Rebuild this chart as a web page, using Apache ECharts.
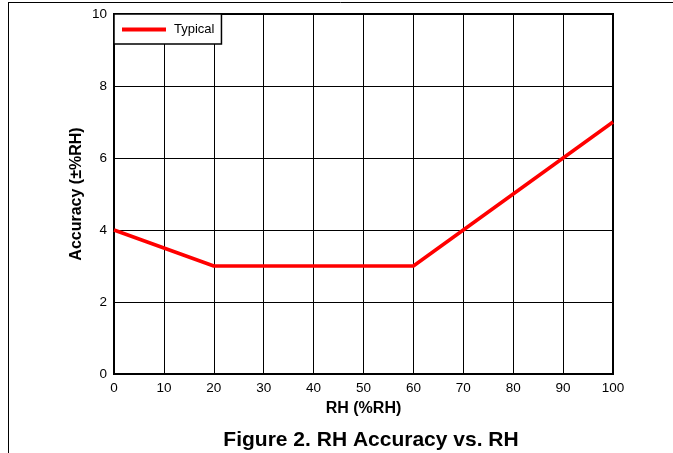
<!DOCTYPE html>
<html><head><meta charset="utf-8">
<script src="https://cdn.jsdelivr.net/npm/echarts@6/dist/echarts.min.js"></script>
<style>html,body{margin:0;padding:0;background:#fff}#c{width:673px;height:453px}</style>
</head><body><div id="c"></div>
<script>
const rhValues = [0, 20, 60, 100];
const accuracyValues = [4, 3, 3, 7];
const seriesName = 'Typical';
const xTicks = [0,10,20,30,40,50,60,70,80,90,100];
const yTicks = [0,2,4,6,8,10];

const chart = echarts.init(document.getElementById('c'));
const F = 'Liberation Sans, Arial, sans-serif';
chart.setOption({
  animation: false,
  textStyle: {fontFamily: F},
  grid: {left: 114, right: 60, top: 14, bottom: 79, show: true, borderColor: '#000', borderWidth: 2},
  title: {text: 'Figure 2. RH Accuracy vs. RH', left: 366, textAlign: 'center', top: 425,
    textStyle: {fontFamily: F, fontSize: 21, fontWeight: 'bold', color: '#000'}},
  legend: {left: 114, top: 14, orient: 'horizontal', padding: [9, 7, 8, 8],
    borderColor: '#000', borderWidth: 1.5, backgroundColor: '#fff', borderRadius: 0,
    itemWidth: 44, itemHeight: 4, itemGap: 0, icon: 'rect',
    textStyle: {fontFamily: F, fontSize: 13, color: '#000', padding: [0, 0, 0, 3]},
    data: [seriesName]},
  xAxis: {type: 'value', min: 0, max: 100, interval: 10,
    name: 'RH (%RH)', nameLocation: 'middle', nameGap: 27, nameMoveOverlap: false,
    nameTextStyle: {fontFamily: F, fontSize: 16, fontWeight: 'bold', color: '#000'},
    axisLine: {show: false}, axisTick: {show: false},
    axisLabel: {color: '#000', fontSize: 13.5, margin: 7, fontFamily: F},
    splitLine: {show: true, lineStyle: {color: '#000', width: 1}}},
  yAxis: {type: 'value', min: 0, max: 10, interval: 2,
    name: 'Accuracy (±%RH)', nameLocation: 'middle', nameGap: 29, nameMoveOverlap: false,
    nameTextStyle: {fontFamily: F, fontSize: 16, fontWeight: 'bold', color: '#000'},
    axisLine: {show: false}, axisTick: {show: false},
    axisLabel: {color: '#000', fontSize: 13.5, margin: 7, fontFamily: F},
    splitLine: {show: true, lineStyle: {color: '#000', width: 1}}},
  series: [{name: seriesName, type: 'line', showSymbol: false, symbol: 'none',
    data: rhValues.map((x, i) => [x, accuracyValues[i]]),
    lineStyle: {color: '#ff0000', width: 3.5}, itemStyle: {color: '#ff0000'}, z: 5}],
  graphic: [
    {type: 'line', shape: {x1: 8, y1: 2.5, x2: 673, y2: 2.5}, style: {stroke: '#000', lineWidth: 1}},
    {type: 'line', shape: {x1: 8.5, y1: 2, x2: 8.5, y2: 453}, style: {stroke: '#000', lineWidth: 1}}
  ]
});
</script></body></html>
